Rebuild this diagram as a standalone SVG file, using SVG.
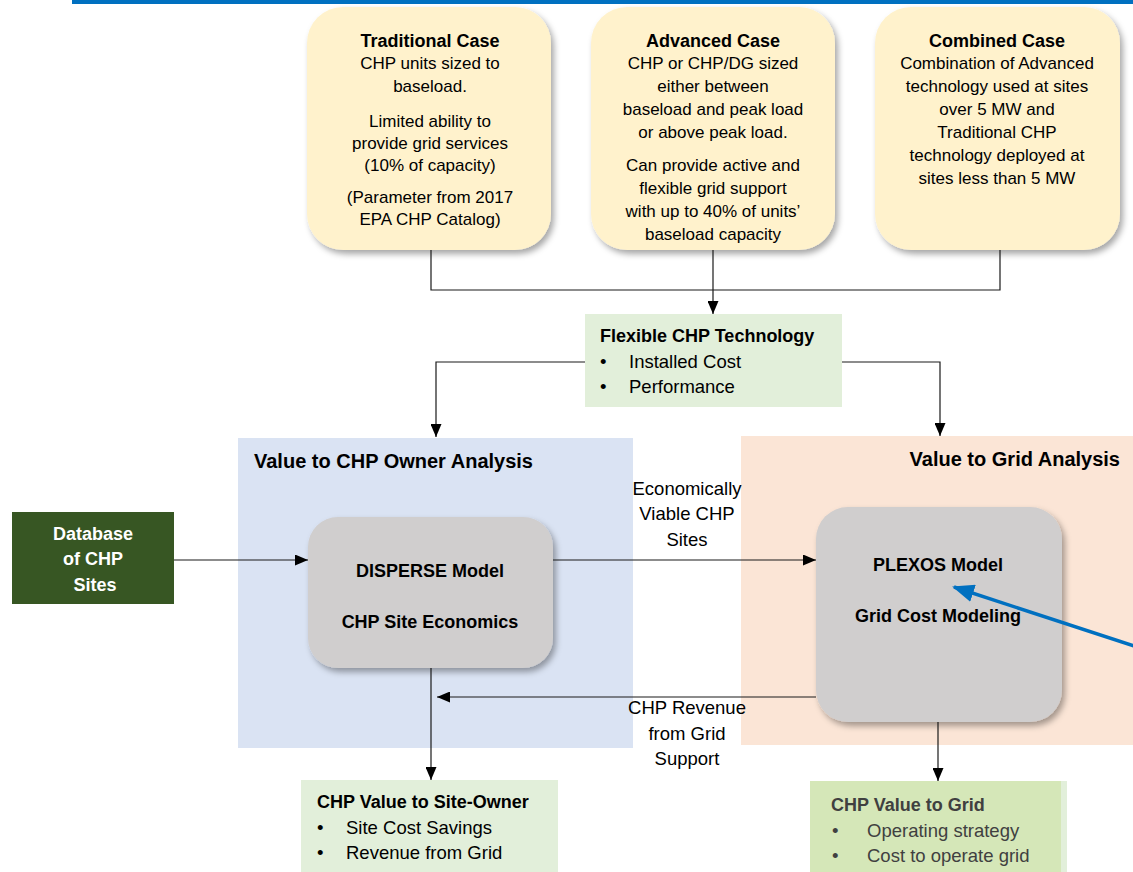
<svg xmlns="http://www.w3.org/2000/svg" width="1133" height="872" viewBox="0 0 1133 872">
<style>
text{font-family:"Liberation Sans",Arial,sans-serif;fill:#000}
.yt{font-size:18px;font-weight:bold;text-anchor:middle}
.yb{font-size:17px;text-anchor:middle}
.gt{font-size:18px;font-weight:bold}
.gb{font-size:18.5px}
.at{font-size:20px;font-weight:bold}
.mt{font-size:18px;font-weight:bold;text-anchor:middle}
.lb{font-size:18.5px;text-anchor:middle}
.yellow{fill:#FFF2CC;filter:url(#sh)}
.gray{fill:#D0CECE;filter:url(#sh)}
.green{fill:#E2EFDA}
.conn{fill:none;stroke:#1a1a1a;stroke-width:1.2}
</style>
<defs>
<filter id="sh" x="-10%" y="-10%" width="125%" height="125%">
<feDropShadow dx="3" dy="4" stdDeviation="3" flood-color="#000" flood-opacity="0.35"/>
</filter>
<marker id="ah" markerUnits="userSpaceOnUse" markerWidth="13" markerHeight="11" refX="13" refY="5.5" orient="auto">
<path d="M0,0 L13,5.5 L0,11 z" fill="#000"/>
</marker>
<marker id="bh" markerUnits="userSpaceOnUse" markerWidth="22" markerHeight="18" refX="20" refY="9" orient="auto">
<path d="M0,0 L22,9 L0,18 z" fill="#0070C0"/>
</marker>
</defs>
<rect x="0" y="0" width="1133" height="872" fill="#fff"/>
<rect x="72" y="0" width="1061" height="4" fill="#0070C0"/>

<g id="area-owner">
<rect x="238" y="438" width="395" height="310" fill="#DAE3F3"/>
<text class="at" x="254" y="468">Value to CHP Owner Analysis</text>
</g>
<g id="area-grid">
<rect x="741" y="436" width="392" height="309" fill="#FBE5D6"/>
<text class="at" x="1120" y="466" text-anchor="end">Value to Grid Analysis</text>
</g>

<g id="traditional">
<rect class="yellow" x="307" y="7" width="244" height="243" rx="36"/>
<text class="yt" x="430" y="47">Traditional Case</text>
<text class="yb" x="430" y="69">CHP units sized to</text>
<text class="yb" x="430" y="92">baseload.</text>
<text class="yb" x="430" y="127">Limited ability to</text>
<text class="yb" x="430" y="149">provide grid services</text>
<text class="yb" x="430" y="171">(10% of capacity)</text>
<text class="yb" x="430" y="203">(Parameter from 2017</text>
<text class="yb" x="430" y="225">EPA CHP Catalog)</text>
</g>
<g id="advanced">
<rect class="yellow" x="591" y="7" width="244" height="243" rx="36"/>
<text class="yt" x="713" y="47">Advanced Case</text>
<text class="yb" x="713" y="69">CHP or CHP/DG sized</text>
<text class="yb" x="713" y="92">either between</text>
<text class="yb" x="713" y="115">baseload and peak load</text>
<text class="yb" x="713" y="138">or above peak load.</text>
<text class="yb" x="713" y="171">Can provide active and</text>
<text class="yb" x="713" y="194">flexible grid support</text>
<text class="yb" x="713" y="217">with up to 40% of units’</text>
<text class="yb" x="713" y="240">baseload capacity</text>
</g>
<g id="combined">
<rect class="yellow" x="875" y="7" width="245" height="243" rx="36"/>
<text class="yt" x="997" y="47">Combined Case</text>
<text class="yb" x="997" y="69">Combination of Advanced</text>
<text class="yb" x="997" y="92">technology used at sites</text>
<text class="yb" x="997" y="115">over 5 MW and</text>
<text class="yb" x="997" y="138">Traditional CHP</text>
<text class="yb" x="997" y="161">technology deployed at</text>
<text class="yb" x="997" y="184">sites less than 5 MW</text>
</g>

<g id="flexible">
<rect class="green" x="585" y="314" width="257" height="93"/>
<text class="gt" x="600" y="342">Flexible CHP Technology</text>
<text class="gb" x="600" y="368">•</text>
<text class="gb" x="629" y="368">Installed Cost</text>
<text class="gb" x="600" y="393">•</text>
<text class="gb" x="629" y="393">Performance</text>
</g>

<g id="database">
<rect x="12" y="512" width="162" height="92" fill="#375623"/>
<text class="mt" x="93" y="540" style="fill:#fff">Database</text>
<text class="mt" x="93" y="565" style="fill:#fff">of CHP</text>
<text class="mt" x="95" y="591" style="fill:#fff">Sites</text>
</g>

<g id="disperse">
<rect class="gray" x="308" y="517" width="245" height="151" rx="30"/>
<text class="mt" x="430" y="577">DISPERSE Model</text>
<text class="mt" x="430" y="628">CHP Site Economics</text>
</g>

<g id="plexos">
<rect class="gray" x="816" y="507" width="246" height="215" rx="32"/>
<text class="mt" x="938" y="571">PLEXOS Model</text>
<text class="mt" x="938" y="622">Grid Cost Modeling</text>
</g>

<g id="site-owner">
<rect class="green" x="301" y="780" width="257" height="92"/>
<text class="gt" x="317" y="808">CHP Value to Site-Owner</text>
<text class="gb" x="317" y="834">•</text>
<text class="gb" x="346" y="834">Site Cost Savings</text>
<text class="gb" x="317" y="859">•</text>
<text class="gb" x="346" y="859">Revenue from Grid</text>
</g>

<g id="value-grid">
<rect x="810" y="781" width="251" height="91" fill="#D5E7B8"/>
<rect x="1061" y="781" width="6" height="91" fill="#E2EFDA"/>
<text class="gt" x="831" y="811" style="fill:#404040">CHP Value to Grid</text>
<text class="gb" x="832" y="837" style="fill:#404040">•</text>
<text class="gb" x="867" y="837" style="fill:#404040">Operating strategy</text>
<text class="gb" x="832" y="862" style="fill:#404040">•</text>
<text class="gb" x="867" y="862" style="fill:#404040">Cost to operate grid</text>
</g>

<g id="connectors">
<path class="conn" d="M431,250 V290 H1000 V250"/>
<path class="conn" d="M713,250 V314" marker-end="url(#ah)"/>
<path class="conn" d="M585,362 H436 V437" marker-end="url(#ah)"/>
<path class="conn" d="M842,362 H940 V436" marker-end="url(#ah)"/>
<path class="conn" d="M174,560 H308" marker-end="url(#ah)"/>
<path class="conn" d="M553,560 H816" marker-end="url(#ah)"/>
<path class="conn" d="M816,697 H437" marker-end="url(#ah)"/>
<path class="conn" d="M431,668 V780" marker-end="url(#ah)"/>
<path class="conn" d="M938,722 V781" marker-end="url(#ah)"/>
<path d="M1140,648 L954,587" fill="none" stroke="#0070C0" stroke-width="3.5" marker-end="url(#bh)"/>
<text class="lb" x="687" y="495">Economically</text>
<text class="lb" x="687" y="520">Viable CHP</text>
<text class="lb" x="687" y="546">Sites</text>
<text class="lb" x="687" y="714">CHP Revenue</text>
<text class="lb" x="687" y="740">from Grid</text>
<text class="lb" x="687" y="765">Support</text>
</g>
</svg>
